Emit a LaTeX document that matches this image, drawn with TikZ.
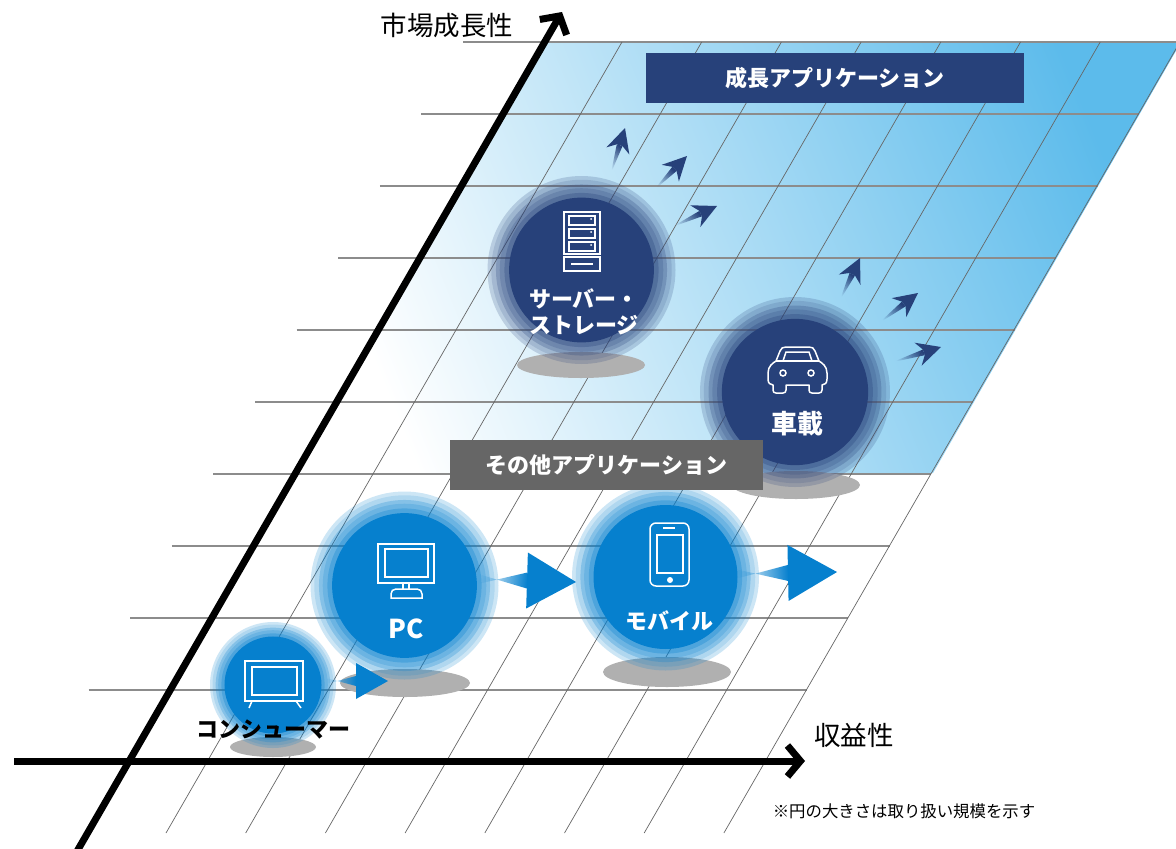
\documentclass[tikz,border=0pt]{standalone}
\usepackage{fontspec}
\newfontfamily\jpfont{Noto Sans CJK JP}
\usetikzlibrary{arrows.meta,calc,fadings}

\definecolor{navyapp}{HTML}{27417A}
\definecolor{blueapp}{HTML}{0680CE}
\definecolor{skyapp}{HTML}{5CBBEB}
\definecolor{paleapp}{HTML}{B5E0F7}
\definecolor{grayapp}{HTML}{666666}
\definecolor{shadowapp}{HTML}{B0B0B0}

\tikzset{
  rowline/.style={draw=black!45, line width=1.3pt},
  slantline/.style={draw=black!60, line width=0.7pt},
  axisline/.style={line width=7pt, -{Straight Barb[length=13pt,width=31pt,line width=7pt]}},
  shadow/.style={fill=shadowapp},
  applabel/.style={text=white, font=\jpfont\bfseries\fontsize{22}{26}\selectfont, align=center},
  axislabel/.style={text=black, font=\jpfont\fontsize{26.5}{30}\selectfont},
  iconline/.style={draw=white, line width=1.5pt, fill=none},
}

\begin{document}
\begin{tikzpicture}[x=1pt, y=-1pt]

\useasboundingbox (0,0) rectangle (1176,849);
\clip (0,0) rectangle (1176,849);

% growth area
\shade[left color=white, middle color=paleapp, right color=skyapp, shading angle=112]
  (544,42) -- (1181,42) -- (933,473) -- (296,473) -- cycle;

% grid
\foreach \row in {0,...,9} {
  \draw[rowline] ({463-41.6*\row},{42+72*\row}) -- ({1181-41.6*\row},{42+72*\row});
}
\foreach \col in {0,...,7} {
  \draw[slantline] ({622+79.7*\col},42) -- ({166+79.7*\col},833);
}

% axes
\coordinate (x-start) at (14,761);
\coordinate (x-end) at (805,761);
\coordinate (y-start) at (72,860);
\coordinate (y-end) at (562,12);
\draw[axisline] (x-start) -- (x-end);
\draw[axisline] (y-start) -- (y-end);
\node[axislabel] (y-label) at (447,25) {市場成長性};
\node[axislabel] (x-label) at (854,735) {収益性};

% shadows
\fill[shadow] (273,747) ellipse (43 and 10);
\fill[shadow] (405,683) ellipse (65 and 14);
\fill[shadow] (667,672) ellipse (64 and 15);
\fill[shadow] (581,365) ellipse (64 and 13);
\fill[shadow] (796,485) ellipse (64 and 14);

% bubbles
\foreach \cx/\cy/\rad/\core in {273/685/63/blueapp, 404.5/585.5/94/blueapp, 665.5/577/93.5/blueapp, 581.5/270/94/navyapp, 795/392/95/navyapp} {
  \foreach \band/\alpha in {1/.2, .96/.15, .91/.25, .87/.2, .82/.3} {
    \fill[\core, fill opacity=\alpha] (\cx,\cy) circle ({\band*\rad});
  }
  \fill[\core] (\cx,\cy) circle ({.77*\rad});
}

% arrows
\foreach \tx/\ty/\px/\py/\ang/\hlen/\wing/\join/\shaft/\tailw/\core in {
  326/681/388/681/0/32/18/32/5/3/blueapp,
  478/579/576/582/-2/49/28/49/8/5/blueapp,
  735/574/837/572/1/49/28/49/8/5/blueapp,
  611/173/625/128/73/24/12/18/3/0/navyapp,
  654/190/687/156/46/24/12/18/3/0/navyapp,
  672/227/717/206/25/24/12/18/3/0/navyapp,
  840/300/860/258/64/24/12/18/3/0/navyapp,
  879/323/918/293/38/24/12/18/3/0/navyapp,
  893/362/941/347/17/24/12/18/3/0/navyapp} {
  \coordinate (tail) at (\tx,\ty);
  \coordinate (tip) at (\px,\py);
  \coordinate (base) at ($(tip)!\hlen pt!(tail)$);
  \coordinate (neck) at ($(tip)!\join pt!(tail)$);
  \fill[\core, path fading=west, fading angle=\ang]
    ($(tail)!\tailw pt!-90:(tip)$) -- ($(neck)!\shaft pt!90:(tip)$) -- ($(neck)!\shaft pt!-90:(tip)$) -- ($(tail)!\tailw pt!90:(tip)$) -- cycle;
  \fill[\core] ($(neck)!\shaft pt!90:(tip)$) -- ($(base)!\wing pt!90:(tip)$) -- (tip)
    -- ($(base)!\wing pt!-90:(tip)$) -- ($(neck)!\shaft pt!-90:(tip)$) -- cycle;
}

% server icon
\draw[iconline] (564,212) rectangle (600,254);
\foreach \top in {216,229,242} {
  \draw[iconline, line width=1.2pt] (569,\top) rectangle (595,{\top+9});
  \fill[white] (591,{\top+3}) circle (1);
}
\draw[iconline] (564,257) rectangle (600,271);
\draw[iconline] (571,264) -- (593,264);

% car icon
\draw[iconline, line join=round]
  (768,373) .. controls (768,366) and (773,363) .. (776,361)
  -- (780,351) .. controls (781,348) and (783,347) .. (786,347)
  -- (809,347) .. controls (812,347) and (814,348) .. (815,351)
  -- (819,361) .. controls (822,363) and (827,366) .. (827,373)
  -- (827,379) .. controls (827,383) and (825,385) .. (822,385)
  -- (822,390) .. controls (822,392) and (821,393) .. (819,393)
  -- (812,393) .. controls (810,393) and (809,392) .. (809,390)
  -- (809,385) -- (786,385) -- (786,390)
  .. controls (786,392) and (785,393) .. (783,393)
  -- (776,393) .. controls (774,393) and (773,392) .. (773,390)
  -- (773,385) .. controls (770,385) and (768,383) .. (768,379) -- cycle;
\draw[iconline] (776,361) -- (819,361);
\draw[iconline] (783,361) -- (786,352) -- (809,352) -- (812,361);
\draw[iconline] (783,373) circle (3);
\draw[iconline] (811,373) circle (3);

% monitor icon
\draw[iconline] (378,544) rectangle (434,583);
\draw[iconline] (385,549) rectangle (428,577);
\draw[iconline] (403,583) -- (403,589) (409,583) -- (409,589);
\draw[iconline] (391,598) -- (391,594) .. controls (391,591) and (393,589) .. (396,589)
  -- (417,589) .. controls (420,589) and (422,591) .. (422,594) -- (422,598) -- cycle;

% tv icon
\draw[iconline] (245,661) rectangle (303,701);
\draw[iconline] (252,667) rectangle (297,695);
\draw[iconline] (252,701) -- (249,708) (296,701) -- (301,708);

% phone icon
\draw[iconline, rounded corners=6] (650,523) rectangle (689,586);
\draw[iconline] (657,535) rectangle (683,573);
\draw[iconline] (663,528) -- (675,528);
\fill[white] (670,580) circle (3);

% labels
\node[applabel] (server-label) at (584,312) {サーバー・\\ストレージ};
\node[applabel, font=\jpfont\bfseries\fontsize{26}{30}\selectfont] (car-label) at (797,424) {車載};
\node[applabel, font=\jpfont\bfseries\fontsize{26}{30}\selectfont] (pc-label) at (406,629) {PC};
\node[applabel] (mobile-label) at (669,621) {モバイル};
\node[applabel, text=black] (consumer-label) at (273,729) {コンシューマー};

% headers
\node[fill=navyapp, applabel, minimum width=378, minimum height=50] (growth-header) at (835,78) {成長アプリケーション};
\node[fill=grayapp, applabel, minimum width=313, minimum height=50] (other-header) at (606.5,465) {その他アプリケーション};
\node[font=\jpfont\fontsize{16.4}{20}\selectfont] (note) at (904,811) {※円の大きさは取り扱い規模を示す};

\end{tikzpicture}
\end{document}
